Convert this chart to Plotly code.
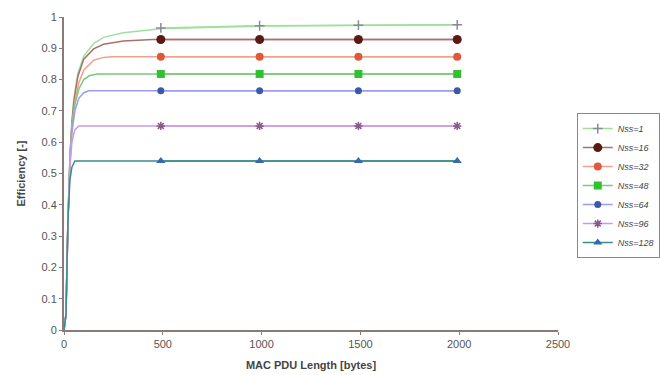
import plotly.graph_objects as go

# Curve sample lengths (bytes) and efficiencies
curve_len = {
    "Nss=1":   [10, 20, 30, 40, 50, 70, 100, 150, 200, 300, 400, 500, 1000, 1500, 2000],
    "Nss=16":  [10, 20, 30, 40, 50, 70, 100, 150, 200, 300, 450, 2000],
    "Nss=32":  [10, 20, 30, 40, 55, 75, 100, 150, 200, 240, 2000],
    "Nss=48":  [10, 20, 30, 40, 55, 75, 100, 130, 170, 2000],
    "Nss=64":  [10, 20, 30, 40, 55, 75, 100, 125, 2000],
    "Nss=96":  [10, 20, 30, 40, 55, 75, 2000],
    "Nss=128": [10, 20, 30, 40, 55, 2000],
}
curve_eff = {
    "Nss=1":   [0.05, 0.35, 0.55, 0.67, 0.74, 0.82, 0.875, 0.915, 0.935, 0.95, 0.957, 0.963, 0.971, 0.974, 0.975],
    "Nss=16":  [0.05, 0.35, 0.55, 0.66, 0.73, 0.81, 0.865, 0.898, 0.913, 0.923, 0.928, 0.928],
    "Nss=32":  [0.05, 0.35, 0.55, 0.65, 0.73, 0.79, 0.83, 0.862, 0.871, 0.873, 0.873],
    "Nss=48":  [0.05, 0.35, 0.54, 0.65, 0.72, 0.77, 0.80, 0.813, 0.818, 0.818],
    "Nss=64":  [0.05, 0.35, 0.53, 0.63, 0.70, 0.74, 0.758, 0.764, 0.764],
    "Nss=96":  [0.05, 0.35, 0.52, 0.60, 0.64, 0.652, 0.652],
    "Nss=128": [0.05, 0.35, 0.48, 0.52, 0.54, 0.54],
}

# Marked points
marker_len = [490, 990, 1490, 1990]
marker_eff = {
    "Nss=1":   [0.965, 0.972, 0.974, 0.975],
    "Nss=16":  [0.928, 0.928, 0.928, 0.928],
    "Nss=32":  [0.873, 0.873, 0.873, 0.873],
    "Nss=48":  [0.818, 0.818, 0.818, 0.818],
    "Nss=64":  [0.764, 0.764, 0.764, 0.764],
    "Nss=96":  [0.652, 0.652, 0.652, 0.652],
    "Nss=128": [0.54, 0.54, 0.54, 0.54],
}

series = ["Nss=1", "Nss=16", "Nss=32", "Nss=48", "Nss=64", "Nss=96", "Nss=128"]
line_colors = ["#9ee09a", "#a87070", "#f5a08a", "#7cc87c", "#9c9cf0", "#cc99e6", "#3a8c8c"]
marker_colors = ["#8a8a9a", "#5a1a12", "#e0583a", "#30c030", "#3a5aa8", "#8a5a8a", "#3a64b4"]
marker_symbols = ["cross-thin", "circle", "circle", "square", "circle", "asterisk", "triangle-up"]
marker_sizes = [7, 9, 8, 8, 7, 7, 8]

fig = go.Figure()
for i, s in enumerate(series):
    fig.add_trace(go.Scatter(
        x=[0] + curve_len[s], y=[0] + curve_eff[s], mode="lines",
        line=dict(color=line_colors[i], width=1.5), showlegend=False, hoverinfo="skip"))
for i, s in enumerate(series):
    sym = marker_symbols[i]
    mk = dict(color=marker_colors[i], symbol=sym, size=marker_sizes[i])
    if sym in ("cross-thin", "asterisk"):
        mk["line"] = dict(color=marker_colors[i], width=1.5)
    fig.add_trace(go.Scatter(
        x=marker_len, y=marker_eff[s], mode="lines+markers", name="<i>" + s + "</i>",
        line=dict(color=line_colors[i], width=1.5), marker=mk))

axis_common = dict(
    showgrid=False, zeroline=False, showline=True, linecolor="#8a7a7a", linewidth=2,
    ticks="outside", ticklen=3, tickcolor="#8a7a7a",
    tickfont=dict(family="Liberation Sans, Arial", size=11, color="#555555"),
)

fig.update_layout(
    width=660, height=375,
    margin=dict(l=64, r=102, t=17, b=45, autoexpand=False),
    paper_bgcolor="white", plot_bgcolor="white",
    xaxis=dict(range=[0, 2500], dtick=500, **axis_common,
               title=dict(text="<b>MAC PDU Length [bytes]</b>", standoff=12,
                          font=dict(family="Liberation Sans, Arial", size=11, color="#444444"))),
    yaxis=dict(range=[0, 1], dtick=0.1, tickformat="~g", **axis_common,
               title=dict(text="<b>Efficiency [-]</b>", standoff=14,
                          font=dict(family="Liberation Sans, Arial", size=11, color="#444444"))),
    legend=dict(x=1.038, y=0.693, xanchor="left", yanchor="top",
                bordercolor="#888888", borderwidth=1, bgcolor="white",
                font=dict(family="Liberation Sans, Arial", size=9, color="#444444"),
                itemwidth=30, tracegroupgap=0),
    showlegend=True,
)

fig.write_html("out.html")
